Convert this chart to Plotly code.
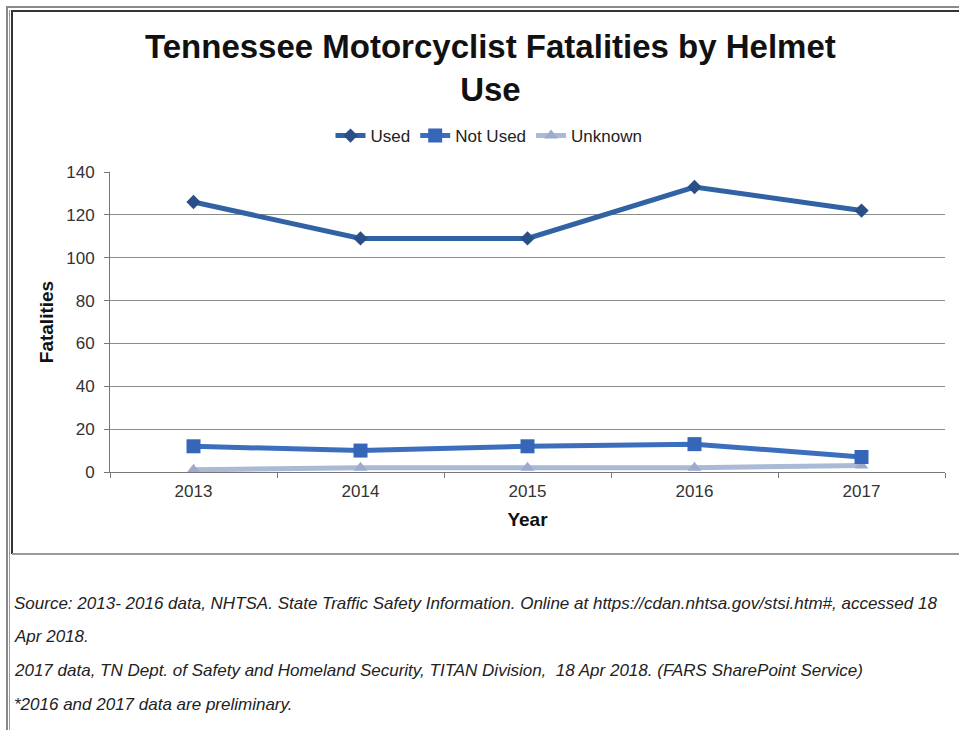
import plotly.graph_objects as go

years = ["2013", "2014", "2015", "2016", "2017"]
used = [126, 109, 109, 133, 122]
not_used = [12, 10, 12, 13, 7]
unknown = [1, 2, 2, 2, 3]
y_ticks = [0, 20, 40, 60, 80, 100, 120, 140]

title_text = "Tennessee Motorcyclist Fatalities by Helmet<br>Use"
notes = [
    "Source: 2013- 2016 data, NHTSA. State Traffic Safety Information. Online at https://cdan.nhtsa.gov/stsi.htm#, accessed 18",
    "Apr 2018.",
    "2017 data, TN Dept. of Safety and Homeland Security, TITAN Division,  18 Apr 2018. (FARS SharePoint Service)",
    "*2016 and 2017 data are preliminary.",
]

W, H = 959, 730
L, R, T, B = 110, 945, 172, 472


def px(x):
    return (x - L) / (R - L)


def py(y):
    return (B - y) / (B - T)


fig = go.Figure()
fig.add_trace(go.Scatter(x=years, y=unknown, name="Unknown", mode="lines+markers",
                         line=dict(color="#a9b9d6", width=5),
                         marker=dict(symbol="triangle-up", size=12, color="#9aabcb")))
fig.add_trace(go.Scatter(x=years, y=not_used, name="Not Used", mode="lines+markers",
                         line=dict(color="#3b6fbd", width=5),
                         marker=dict(symbol="square", size=14, color="#3566b8")))
fig.add_trace(go.Scatter(x=years, y=used, name="Used", mode="lines+markers",
                         line=dict(color="#3162a3", width=5),
                         marker=dict(symbol="diamond", size=11, color="#294f86")))

shapes = [
    dict(type="line", xref="paper", yref="paper", x0=px(6), x1=px(959), y0=py(7), y1=py(7),
         line=dict(color="#8a8a8a", width=2)),
    dict(type="line", xref="paper", yref="paper", x0=px(7), x1=px(7), y0=py(7), y1=py(730),
         line=dict(color="#8a8a8a", width=2)),
    dict(type="line", xref="paper", yref="paper", x0=px(9.5), x1=px(9.5), y0=py(10), y1=py(730),
         line=dict(color="#9a9a9a", width=1)),
    dict(type="line", xref="paper", yref="paper", x0=px(11), x1=px(959), y0=py(11), y1=py(11),
         line=dict(color="#333333", width=2)),
    dict(type="line", xref="paper", yref="paper", x0=px(12), x1=px(12), y0=py(11), y1=py(554),
         line=dict(color="#333333", width=2)),
    dict(type="line", xref="paper", yref="paper", x0=px(12), x1=px(959), y0=py(554), y1=py(554),
         line=dict(color="#9a9a9a", width=2)),
]

annotations = [
    dict(text="<b>" + title_text + "</b>", xref="paper", yref="paper", x=px(490), y=py(68),
         xanchor="center", yanchor="middle", showarrow=False,
         font=dict(family="Liberation Sans, Arial", size=33, color="#111111")),
]
for i, t in enumerate(notes):
    annotations.append(dict(text="<i>" + t + "</i>", xref="paper", yref="paper",
                            x=px(12), y=py(603 + i * 33.7), xanchor="left", yanchor="middle",
                            showarrow=False,
                            font=dict(family="Liberation Sans, Arial", size=17, color="#222222")))

fig.update_layout(
    width=W, height=H,
    margin=dict(l=L, r=W - R, t=T, b=H - B, autoexpand=False),
    paper_bgcolor="white", plot_bgcolor="white",
    font=dict(family="Liberation Sans, Arial", size=17, color="#333333"),
    showlegend=True,
    legend=dict(orientation="h", x=px(489), y=py(136), xanchor="center", yanchor="middle",
                traceorder="reversed", font=dict(size=17, color="#222222"),
                itemwidth=30, bgcolor="rgba(0,0,0,0)"),
    shapes=shapes,
    annotations=annotations,
    xaxis=dict(type="category", categoryorder="array", categoryarray=years,
               range=[-0.5, 4.5], tickson="boundaries", ticks="outside", ticklen=5,
               tickcolor="#777777", showline=True, linecolor="#777777", linewidth=1,
               showgrid=False, zeroline=False, ticklabelstandoff=4,
               title=dict(text="<b>Year</b>", standoff=12, font=dict(size=19, color="#111111")),
               tickfont=dict(size=17, color="#333333")),
    yaxis=dict(range=[0, 140], tickvals=y_ticks, ticks="outside", ticklen=5,
               tickcolor="#777777", showline=True, linecolor="#777777", linewidth=1,
               showgrid=True, gridcolor="#8c8c8c", gridwidth=1, zeroline=False,
               ticklabelstandoff=6,
               title=dict(text="<b>Fatalities</b>", standoff=7, font=dict(size=19, color="#111111")),
               tickfont=dict(size=17, color="#333333")),
)

fig.write_html("out.html")
